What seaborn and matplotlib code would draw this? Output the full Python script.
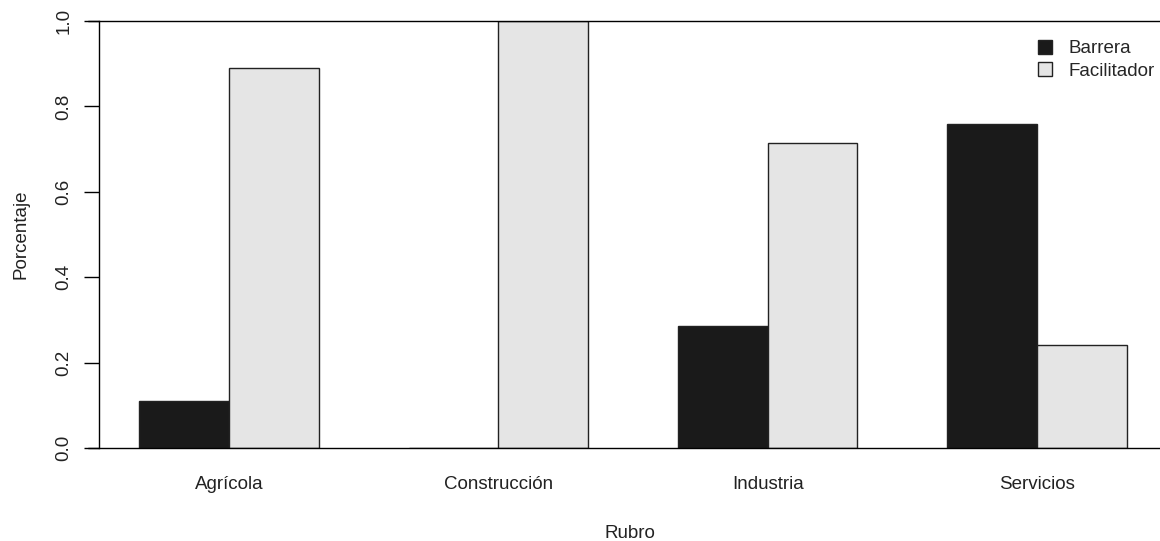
import matplotlib
matplotlib.use("Agg")
import matplotlib.pyplot as plt
from matplotlib.patches import Patch
import seaborn as sns
import pandas as pd

# Share of each sector's answers classed as barrier vs. facilitator
rubros = ["Agrícola", "Construcción", "Industria", "Servicios"]
barrera = [0.111, 0.0, 0.286, 0.758]
facilitador = [0.889, 1.0, 0.714, 0.242]
tipos = ["Barrera", "Facilitador"]
colores = ["#1a1a1a", "#e5e5e5"]
yticks = [0.0, 0.2, 0.4, 0.6, 0.8, 1.0]

df = pd.DataFrame({
    "Rubro": rubros * 2,
    "Tipo": [tipos[0]] * len(rubros) + [tipos[1]] * len(rubros),
    "Porcentaje": barrera + facilitador,
})

sns.set_style("white")
plt.rcParams["font.family"] = ["Liberation Sans", "DejaVu Sans"]
FS = 13.5

fig = plt.figure(figsize=(11.6, 5.41), dpi=100)
ax = fig.add_axes([99 / 1160, 93 / 541, 1 - 99 / 1160, 427 / 541])

sns.barplot(data=df, x="Rubro", y="Porcentaje", hue="Tipo", order=rubros,
            hue_order=tipos, palette=colores, width=2 / 3, gap=0,
            edgecolor="#222222", linewidth=1.0, saturation=1,
            legend=False, ax=ax, errorbar=None)

ax.set_xlim(-0.483, 3.457)
ax.set_ylim(0, 1)

for s in ["top", "right", "bottom"]:
    ax.spines[s].set_visible(False)
ax.spines["left"].set_color("black")
ax.spines["left"].set_linewidth(1.0)

# reference lines at 0 and 1 running the full width
for yv in (0.0, 1.0):
    ax.axhline(yv, xmin=-11 / 1061, xmax=1, color="black", lw=1.0,
               clip_on=False, zorder=5)

ax.set_yticks(yticks)
ax.set_yticklabels([f"{v:.1f}" for v in yticks], rotation=90, va="center",
                   fontsize=FS, color="#222222")
ax.tick_params(axis="y", length=11, width=1.0, color="black", pad=8, left=True)
ax.tick_params(axis="x", length=0, pad=20, labelsize=FS, labelcolor="#222222")

ax.set_xlabel("Rubro", fontsize=FS, color="#222222", labelpad=23)
ax.set_ylabel("Porcentaje", fontsize=FS, color="#222222", labelpad=19)

handles = [Patch(facecolor=c, edgecolor="#222222", linewidth=1.0) for c in colores]
fig.legend(handles, tipos, loc="upper left", bbox_to_anchor=(1038 / 1160, 1 - 40 / 541),
           frameon=False, fontsize=FS, handlelength=0.75, handleheight=0.75,
           handletextpad=0.9, labelspacing=0.25, borderaxespad=0, borderpad=0)

fig.savefig("out.png", dpi=100, facecolor="white")
